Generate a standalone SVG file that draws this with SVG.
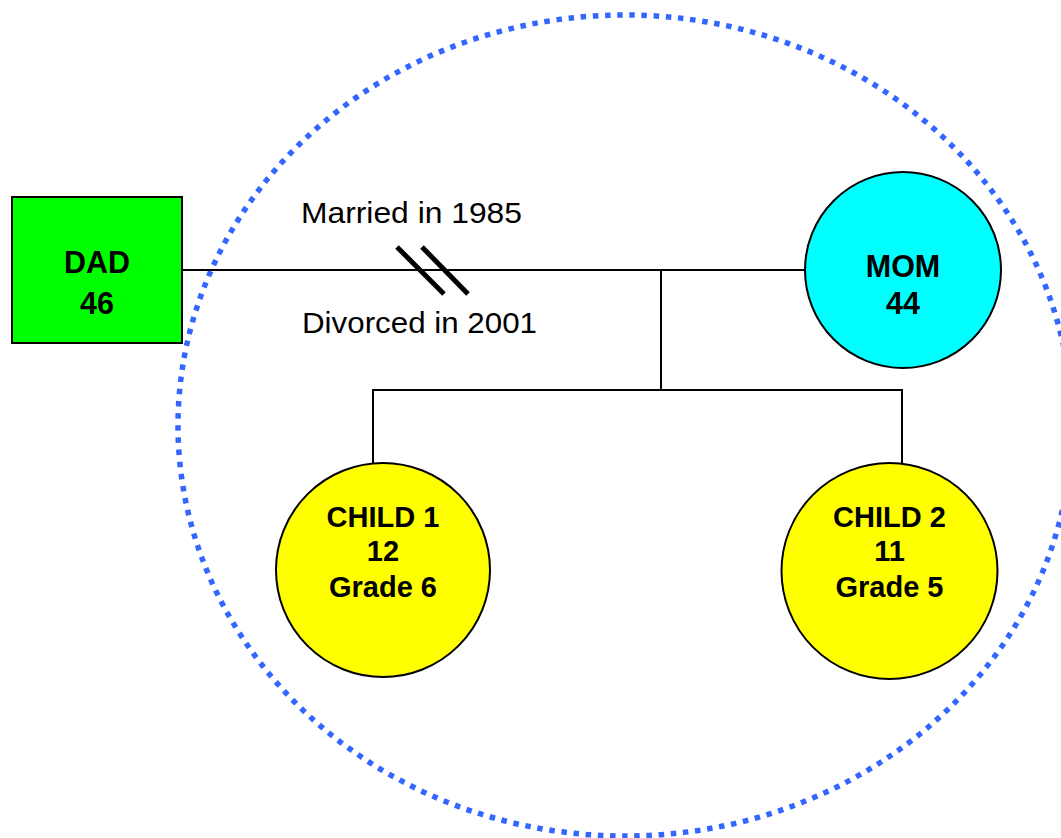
<svg xmlns="http://www.w3.org/2000/svg" width="1061" height="838" viewBox="0 0 1061 838">
  <style>
    .node { stroke: #000; stroke-width: 2; }
    .lbl { font-family: "Liberation Sans", Arial, sans-serif; font-weight: bold; font-size: 29px; text-anchor: middle; fill: #000; }
    .big { font-size: 30.5px; }
    .note { font-family: "Liberation Sans", Arial, sans-serif; font-size: 30px; fill: #000; }
    .conn { stroke: #000; stroke-width: 2; fill: none; }
    .slash { stroke: #000; stroke-width: 5; }
    .boundary { fill: none; stroke: #3366ff; stroke-width: 5.5; stroke-dasharray: 5.5 6.7; }
  </style>
  <rect width="1061" height="838" fill="#fff"/>
  <ellipse id="household" class="boundary" cx="625" cy="425.5" rx="447" ry="410.5"/>
  <g id="connectors">
    <line class="conn" x1="182" y1="270" x2="805" y2="270"/>
    <line class="conn" x1="661" y1="270" x2="661" y2="390"/>
    <polyline class="conn" points="373,463 373,390 902,390 902,463"/>
    <line class="slash" x1="397" y1="247" x2="444" y2="294"/>
    <line class="slash" x1="422" y1="247" x2="468" y2="294"/>
    <text class="note" x="301" y="223" textLength="221" lengthAdjust="spacingAndGlyphs">Married in 1985</text>
    <text class="note" x="302" y="333" textLength="235" lengthAdjust="spacingAndGlyphs">Divorced in 2001</text>
  </g>
  <g id="dad">
    <rect class="node" x="12" y="197" width="170" height="146" fill="#00ff00"/>
    <text class="lbl big" x="97" y="273">DAD</text>
    <text class="lbl big" x="97" y="314">46</text>
  </g>
  <g id="mom">
    <circle class="node" cx="903" cy="270" r="98" fill="#00ffff"/>
    <text class="lbl big" x="903" y="277">MOM</text>
    <text class="lbl big" x="903" y="314">44</text>
  </g>
  <g id="child1">
    <circle class="node" cx="383" cy="570" r="107" fill="#ffff00"/>
    <text class="lbl" x="383" y="527">CHILD 1</text>
    <text class="lbl" x="383" y="561">12</text>
    <text class="lbl" x="383" y="597">Grade 6</text>
  </g>
  <g id="child2">
    <circle class="node" cx="889.5" cy="571" r="108" fill="#ffff00"/>
    <text class="lbl" x="889.5" y="527">CHILD 2</text>
    <text class="lbl" x="889.5" y="561">11</text>
    <text class="lbl" x="889.5" y="597">Grade 5</text>
  </g>
</svg>
